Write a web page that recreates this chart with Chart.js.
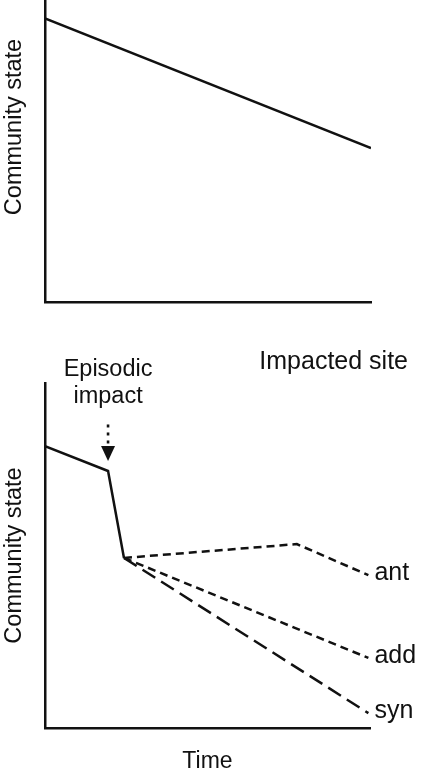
<!DOCTYPE html>
<html>
<head>
<meta charset="utf-8">
<script src="https://cdn.jsdelivr.net/npm/chart.js@4/dist/chart.umd.min.js"></script>
<style>
    html, body { margin: 0; padding: 0; background: #ffffff; overflow: hidden; width: 427px; height: 771px; }
    #top_box { position: absolute; left: 0; top: -48px; width: 427px; height: 368px; }
    #bottom_box { position: absolute; left: 0; top: 320px; width: 427px; height: 455px; }
</style>
</head>
<body>
<div id="top_box"><canvas id="reference_site_chart"></canvas></div>
<div id="bottom_box"><canvas id="impacted_site_chart"></canvas></div>
<script>
// top panel: steady decline at the reference site
const reference_time = [0, 100];
const reference_state = [81, 44];

// bottom panel: impacted site
const impacted_time_before = [0, 19.4, 24.3];
const impacted_state_before = [81.7, 74.5, 49.3];
const ant_time = [24.3, 77.5, 99.5];
const ant_state = [49.3, 53.3, 44.3];
const add_time = [24.3, 99.5];
const add_state = [49.3, 20.3];
const syn_time = [24.3, 99.5];
const syn_state = [49.3, 4.3];
const impact_time = 19.4;
const series_labels = ["ant", "add", "syn"];

const ink = "#111111";
const font_family = "'Liberation Sans', Arial, Helvetica, sans-serif";

function to_points(xs, ys)
{
    return xs.map((x, i) => ({ x: x, y: ys[i] }));
}

function make_scales(x_title, x_height)
{
    return {
        x:
        {
            type: "linear",
            min: 0,
            max: 100,
            grid: { display: false },
            ticks: { display: false },
            border: { display: true, color: ink, width: 2.5 },
            title:
            {
                display: x_title !== "",
                text: x_title,
                color: ink,
                font: { family: font_family, size: 23 },
                padding: { top: 0, bottom: 0 }
            },
            afterFit: (scale) => { scale.height = x_height; }
        },
        y:
        {
            type: "linear",
            min: 0,
            max: 100,
            grid: { display: false },
            ticks: { display: false },
            border: { display: true, color: ink, width: 2.5 },
            title:
            {
                display: true,
                text: "Community state",
                color: ink,
                font: { family: font_family, size: 23.5 },
                padding: { top: 0, bottom: 0 }
            },
            afterFit: (scale) => { scale.width = 45; }
        }
    };
}

const reference_site_chart = new Chart("reference_site_chart",
{
    type: "line",
    data:
    {
        datasets:
        [
            {
                label: "Reference site",
                data: to_points(reference_time, reference_state),
                borderColor: ink,
                borderWidth: 2.5,
                pointRadius: 0,
                tension: 0
            }
        ]
    },
    options:
    {
        animation: false,
        responsive: true,
        maintainAspectRatio: false,
        devicePixelRatio: 1,
        layout: { padding: { top: 0, right: 56, bottom: 0, left: 0 } },
        plugins: { legend: { display: false }, tooltip: { enabled: false } },
        scales: make_scales("", 18)
    }
});

const impacted_labels_plugin =
{
    id: "impacted_labels",
    afterDatasetsDraw(chart)
    {
        const ctx = chart.ctx;
        const area = chart.chartArea;
        const xs = chart.scales.x;
        const ys = chart.scales.y;
        ctx.save();
        ctx.fillStyle = ink;
        ctx.textBaseline = "middle";

        // end labels for the three response lines
        ctx.font = "25px " + font_family;
        ctx.textAlign = "left";
        [1, 2, 3].forEach((dataset_index, i) =>
        {
            const pts = chart.data.datasets[dataset_index].data;
            const last = pts[pts.length - 1];
            ctx.fillText(series_labels[i], xs.getPixelForValue(last.x) + 6, ys.getPixelForValue(last.y) - 2);
        });

        // panel heading
        ctx.textAlign = "right";
        ctx.fillText("Impacted site", area.right + 38, area.top - 21);

        // episodic impact note and arrow
        const impact_index = impacted_time_before.indexOf(impact_time);
        const ix = xs.getPixelForValue(impact_time);
        const iy = ys.getPixelForValue(impacted_state_before[impact_index]);
        ctx.font = "23.5px " + font_family;
        ctx.textAlign = "center";
        ctx.fillText("Episodic", ix, area.top - 13);
        ctx.fillText("impact", ix, area.top + 14);

        [45, 37, 29].forEach((d) =>
        {
            ctx.fillRect(ix - 1.3, iy - d - 1.5, 2.6, 3);
        });
        ctx.beginPath();
        ctx.moveTo(ix - 7, iy - 25);
        ctx.lineTo(ix + 7, iy - 25);
        ctx.lineTo(ix, iy - 10);
        ctx.closePath();
        ctx.fill();
        ctx.restore();
    }
};

const impacted_site_chart = new Chart("impacted_site_chart",
{
    type: "line",
    data:
    {
        datasets:
        [
            {
                label: "before",
                data: to_points(impacted_time_before, impacted_state_before),
                borderColor: ink,
                borderWidth: 2.5,
                pointRadius: 0,
                tension: 0
            },
            {
                label: series_labels[0],
                data: to_points(ant_time, ant_state),
                borderColor: ink,
                borderWidth: 2.5,
                borderDash: [8, 5],
                pointRadius: 0,
                tension: 0
            },
            {
                label: series_labels[1],
                data: to_points(add_time, add_state),
                borderColor: ink,
                borderWidth: 2.5,
                borderDash: [8, 5],
                pointRadius: 0,
                tension: 0
            },
            {
                label: series_labels[2],
                data: to_points(syn_time, syn_state),
                borderColor: ink,
                borderWidth: 2.5,
                borderDash: [15, 7],
                pointRadius: 0,
                tension: 0
            }
        ]
    },
    options:
    {
        animation: false,
        responsive: true,
        maintainAspectRatio: false,
        devicePixelRatio: 1,
        layout: { padding: { top: 63, right: 57, bottom: 0, left: 0 } },
        plugins: { legend: { display: false }, tooltip: { enabled: false } },
        scales: make_scales("Time", 47)
    },
    plugins: [impacted_labels_plugin]
});
</script>
</body>
</html>
